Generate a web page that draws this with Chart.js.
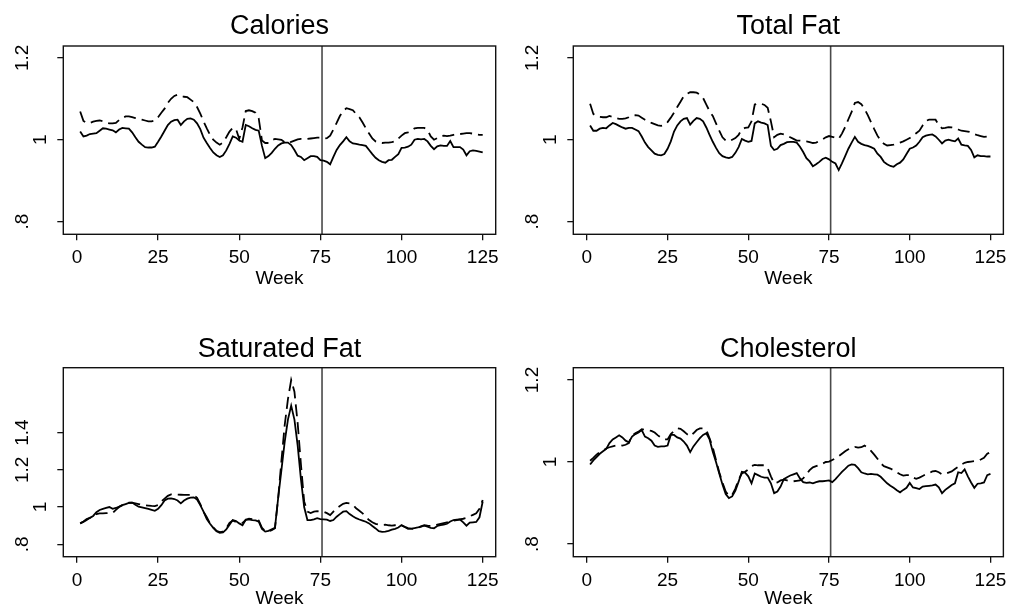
<!DOCTYPE html>
<html><head><meta charset="utf-8">
<script src="https://cdn.jsdelivr.net/npm/chart.js@4.4.1/dist/chart.umd.min.js"></script>
<style>
html,body{margin:0;padding:0;background:#fff;}
#wrap{position:relative;width:1013px;height:607px;background:#fff;}
canvas{position:absolute;left:0;top:0;}
</style></head><body>
<div id="wrap">
<canvas id="c1" width="1013" height="607"></canvas>
<canvas id="c2" width="1013" height="607"></canvas>
<canvas id="c3" width="1013" height="607"></canvas>
<canvas id="c4" width="1013" height="607"></canvas>
</div>
<script>
// ---------------- DATA ----------------
const weeks = [1,2,3,4,5,6,7,8,9,10,11,12,13,14,15,16,17,18,19,20,21,22,23,24,25,
26,27,28,29,30,31,32,33,34,35,36,37,38,39,40,41,42,43,44,45,46,47,48,49,50,
51,52,53,54,55,56,57,58,59,60,61,62,63,64,65,66,67,68,69,70,71,72,73,74,75,
76,77,78,79,80,81,82,83,84,85,86,87,88,89,90,91,92,93,94,95,96,97,98,99,100,
101,102,103,104,105,106,107,108,109,110,111,112,113,114,115,116,117,118,119,120,121,122,123,124,125];

const cutWeek = 75.5;

const xTicks = [0,25,50,75,100,125];
const xTickLabels = ['0','25','50','75','100','125'];
const yTicksStd = [0.8,1,1.2];
const yTickLabelsStd = ['.8','1','1.2'];
const yTicksSat = [0.8,1,1.2,1.4];
const yTickLabelsSat = ['.8','1','1.2','1.4'];

const caloriesSolid = [
1.020,1.008,1.010,1.014,1.015, 1.016,1.022,1.028,1.027,1.025,
1.023,1.018,1.025,1.029,1.028, 1.027,1.018,1.006,0.995,0.988,
0.982,0.981,0.981,0.983,0.995, 1.008,1.022,1.036,1.044,1.048,
1.049,1.036,1.045,1.051,1.052, 1.049,1.040,1.026,1.005,0.992,
0.980,0.969,0.962,0.958,0.962, 0.974,0.990,1.008,1.005,0.998,
0.995,1.036,1.033,1.028,1.024, 1.022,0.985,0.955,0.960,0.968,
0.978,0.986,0.991,0.993,0.993, 0.987,0.975,0.961,0.958,0.950,
0.955,0.960,0.960,0.958,0.950, 0.949,0.946,0.940,0.958,0.975,
0.987,0.996,1.006,0.996,0.991, 0.990,0.988,0.987,0.985,0.975,
0.965,0.956,0.950,0.946,0.944, 0.950,0.951,0.958,0.965,0.980,
0.981,0.983,0.988,1.000,1.002, 1.001,1.002,0.996,0.985,0.977,
0.984,0.986,0.985,0.985,0.997, 0.982,0.982,0.982,0.976,0.962,
0.972,0.974,0.973,0.971,0.969];
const caloriesDashed = [
1.069,1.046,1.041,1.041,1.044, 1.046,1.047,1.045,1.042,1.040,
1.040,1.041,1.048,1.053,1.057, 1.057,1.055,1.053,1.051,1.049,
1.047,1.045,1.045,1.047,1.055, 1.066,1.076,1.090,1.100,1.107,
1.110,1.107,1.105,1.104,1.098, 1.092,1.080,1.064,1.045,1.028,
1.012,1.000,0.993,0.988,0.993, 1.006,1.020,1.029,1.026,1.002,
1.030,1.070,1.072,1.070,1.066, 1.052,0.998,0.992,0.992,0.999,
1.002,1.001,1.000,0.994,0.992, 0.995,0.998,1.001,1.002,1.002,
1.002,1.003,1.004,1.005,1.005, 1.003,1.004,1.010,1.025,1.041,
1.058,1.070,1.077,1.075,1.072, 1.063,1.055,1.042,1.028,1.015,
1.003,0.996,0.993,0.992,0.993, 0.993,0.994,0.996,1.003,1.010,
1.016,1.018,1.022,1.028,1.029, 1.029,1.029,1.024,1.008,1.000,
1.004,1.009,1.010,1.009,1.010, 1.012,1.013,1.014,1.015,1.016,
1.016,1.015,1.013,1.012,1.012];

const totalFatSolid = [
1.035,1.022,1.022,1.027,1.029, 1.028,1.035,1.041,1.038,1.034,
1.030,1.027,1.029,1.029,1.025, 1.021,1.008,0.993,0.982,0.974,
0.966,0.963,0.962,0.965,0.978, 0.996,1.020,1.035,1.045,1.051,
1.053,1.037,1.046,1.053,1.051, 1.045,1.030,1.012,0.995,0.980,
0.967,0.960,0.957,0.955,0.958, 0.968,0.982,1.002,0.998,0.995,
0.997,1.040,1.045,1.042,1.040, 1.036,0.985,0.975,0.978,0.987,
0.990,0.994,0.995,0.995,0.993, 0.983,0.970,0.955,0.947,0.935,
0.940,0.946,0.953,0.956,0.952, 0.946,0.942,0.926,0.942,0.960,
0.978,0.993,1.007,0.995,0.990, 0.987,0.985,0.982,0.978,0.966,
0.958,0.946,0.940,0.936,0.934, 0.940,0.944,0.952,0.965,0.978,
0.981,0.986,0.995,1.006,1.010, 1.012,1.013,1.008,1.000,0.991,
0.998,1.000,0.998,0.996,1.003, 0.988,0.986,0.985,0.975,0.957,
0.962,0.960,0.960,0.959,0.959];
const totalFatDashed = [
1.088,1.063,1.058,1.056,1.055, 1.055,1.058,1.056,1.053,1.051,
1.051,1.052,1.055,1.059,1.060, 1.059,1.054,1.049,1.045,1.041,
1.038,1.035,1.034,1.036,1.043, 1.054,1.066,1.080,1.093,1.106,
1.112,1.116,1.116,1.115,1.110, 1.102,1.086,1.070,1.058,1.040,
1.022,1.006,0.998,0.996,1.000, 1.004,1.012,1.025,1.029,1.030,
1.045,1.086,1.089,1.088,1.085, 1.078,1.045,1.006,1.012,1.015,
1.013,1.011,1.006,1.002,0.998, 0.998,0.997,0.996,0.994,0.992,
0.993,0.997,1.001,1.006,1.009, 1.007,1.005,1.002,1.015,1.031,
1.050,1.068,1.090,1.092,1.087, 1.075,1.060,1.043,1.026,1.010,
0.998,0.990,0.986,0.987,0.988, 0.990,0.993,0.996,1.000,1.004,
1.010,1.016,1.022,1.035,1.046, 1.049,1.049,1.049,1.036,1.028,
1.029,1.031,1.030,1.028,1.025, 1.022,1.021,1.020,1.018,1.014,
1.011,1.009,1.007,1.008,1.010];

const satFatSolid = [
0.912,0.922,0.935,0.942,0.952, 0.972,0.984,0.990,0.995,1.000,
0.990,0.995,1.002,1.010,1.016, 1.022,1.024,1.012,1.002,0.998,
0.994,0.990,0.985,0.980,0.990, 1.010,1.035,1.045,1.047,1.043,
1.035,1.020,1.035,1.045,1.050, 1.052,1.040,1.010,0.975,0.935,
0.910,0.888,0.870,0.862,0.864, 0.880,0.905,0.930,0.925,0.912,
0.902,0.932,0.934,0.930,0.928, 0.922,0.882,0.868,0.872,0.880,
0.888,1.050,1.200,1.350,1.470, 1.545,1.470,1.330,1.150,1.000,
0.930,0.930,0.934,0.940,0.935, 0.934,0.932,0.925,0.930,0.948,
0.962,0.975,0.978,0.962,0.950, 0.940,0.933,0.927,0.921,0.912,
0.898,0.885,0.870,0.866,0.868, 0.872,0.878,0.883,0.890,0.903,
0.893,0.883,0.884,0.887,0.890, 0.895,0.900,0.895,0.888,0.886,
0.898,0.903,0.906,0.910,0.922, 0.930,0.932,0.933,0.918,0.900,
0.916,0.918,0.920,0.945,1.030];
const satFatDashed = [
0.912,0.920,0.930,0.942,0.950, 0.962,0.966,0.966,0.967,0.968,
0.968,0.985,1.000,1.010,1.016, 1.023,1.024,1.020,1.016,1.012,
1.010,1.008,1.006,1.005,1.010, 1.030,1.045,1.060,1.068,1.068,
1.067,1.066,1.065,1.065,1.065, 1.063,1.050,1.015,0.975,0.945,
0.912,0.890,0.872,0.865,0.868, 0.885,0.915,0.928,0.920,0.915,
0.915,0.930,0.938,0.935,0.932, 0.928,0.888,0.870,0.868,0.876,
0.886,1.050,1.250,1.440,1.580, 1.683,1.620,1.450,1.230,1.030,
0.975,0.968,0.975,0.978,0.975, 0.975,0.967,0.957,0.975,0.993,
1.005,1.017,1.022,1.020,1.012, 0.993,0.980,0.966,0.948,0.930,
0.918,0.910,0.906,0.904,0.905, 0.902,0.900,0.902,0.903,0.900,
0.893,0.887,0.884,0.882,0.888, 0.896,0.903,0.900,0.898,0.900,
0.905,0.910,0.914,0.918,0.922, 0.926,0.930,0.934,0.937,0.941,
0.950,0.958,0.966,0.990,1.038];

const cholSolid = [
0.994,1.004,1.012,1.020,1.026, 1.032,1.046,1.055,1.060,1.065,
1.060,1.052,1.048,1.062,1.068, 1.072,1.078,1.062,1.058,1.052,
1.040,1.037,1.038,1.038,1.040, 1.066,1.066,1.060,1.057,1.050,
1.040,1.024,1.038,1.048,1.058, 1.066,1.070,1.055,1.025,1.000,
0.972,0.945,0.922,0.912,0.916, 0.930,0.952,0.976,0.974,0.965,
0.948,0.972,0.968,0.964,0.962, 0.962,0.948,0.924,0.928,0.940,
0.958,0.963,0.967,0.970,0.973, 0.960,0.951,0.949,0.950,0.948,
0.951,0.953,0.953,0.954,0.955, 0.951,0.958,0.967,0.976,0.983,
0.991,0.994,0.993,0.985,0.975, 0.972,0.970,0.971,0.970,0.969,
0.964,0.956,0.948,0.942,0.937, 0.931,0.926,0.932,0.937,0.949,
0.938,0.936,0.934,0.940,0.941, 0.942,0.943,0.945,0.938,0.924,
0.932,0.938,0.944,0.948,0.975, 0.973,0.982,0.965,0.950,0.937,
0.947,0.948,0.950,0.968,0.971];
const cholDashed = [
1.003,1.010,1.018,1.024,1.028, 1.033,1.036,1.038,1.040,1.041,
1.040,1.042,1.046,1.064,1.070, 1.074,1.080,1.078,1.077,1.076,
1.072,1.065,1.059,1.055,1.055, 1.068,1.076,1.082,1.081,1.075,
1.068,1.063,1.070,1.078,1.082, 1.082,1.078,1.058,1.035,1.005,
0.975,0.950,0.928,0.917,0.920, 0.935,0.957,0.972,0.976,0.982,
0.990,0.993,0.992,0.992,0.992, 0.985,0.965,0.948,0.950,0.955,
0.957,0.955,0.953,0.953,0.954, 0.955,0.960,0.970,0.980,0.987,
0.990,0.993,0.996,1.000,1.001, 1.005,1.009,1.014,1.020,1.026,
1.031,1.035,1.037,1.035,1.036, 1.040,1.035,1.027,1.018,1.008,
0.997,0.990,0.987,0.984,0.980, 0.975,0.970,0.967,0.968,0.968,
0.962,0.959,0.962,0.966,0.970, 0.973,0.977,0.978,0.975,0.970,
0.971,0.974,0.977,0.983,0.988, 0.994,0.998,1.000,1.001,1.002,
1.003,1.006,1.010,1.020,1.024];

// ---------------- DRAWING ----------------
const FONT = "'Liberation Sans', Arial, Helvetica, sans-serif";
Chart.defaults.font.family = FONT;
Chart.defaults.color = '#000';

const boxPlugin = {
  id: 'plotBox',
  afterDraw(chart) {
    const a = chart.chartArea, ctx = chart.ctx;
    ctx.save();
    ctx.strokeStyle = '#111';
    ctx.lineWidth = 1.4;
    ctx.strokeRect(a.left, a.top, a.right - a.left, a.bottom - a.top);
    ctx.restore();
  }
};

function toPoints(xs, ys) { return xs.map((x, i) => ({x: x, y: ys[i]})); }

function makePanel(id, title, solid, dashed, yVals, yLabs, yMin, yMax, box, titleMid, weekMid) {
  const W = 1013, Hc = 607;
  const yAxisW = 50;
  const titleLH = 27 * 1.2;
  const titlePadTop = 8;
  const layoutTop = titleMid - titleLH / 2 - titlePadTop;
  const titlePadBottom = box.T - layoutTop - titlePadTop - titleLH;
  const weekLH = 19 * 0.8;
  const xAxisH = (weekMid - box.B) + weekLH / 2;
  const padBottom = Hc - (box.B + xAxisH);
  new Chart(document.getElementById(id), {
    type: 'line',
    data: {
      datasets: [
        {data: toPoints(weeks, solid), borderColor: '#000', borderWidth: 1.8, pointRadius: 0, tension: 0, fill: false},
        {data: toPoints(weeks, dashed), borderColor: '#000', borderWidth: 1.8, borderDash: [12, 6], pointRadius: 0, tension: 0, fill: false},
        {data: [{x: cutWeek, y: yMin}, {x: cutWeek, y: yMax}], borderColor: '#4a4a4a', borderWidth: 1.6, pointRadius: 0, fill: false}
      ]
    },
    options: {
      responsive: false,
      animation: false,
      devicePixelRatio: 1,
      events: [],
      layout: {
        autoPadding: false,
        padding: {left: box.L - yAxisW, right: W - box.R, top: layoutTop, bottom: padBottom}
      },
      plugins: {
        legend: {display: false},
        tooltip: {enabled: false},
        title: {
          display: true, text: title, color: '#000', fullSize: false,
          font: {size: 27, weight: 'normal', family: FONT, lineHeight: 1.2},
          padding: {top: titlePadTop, bottom: titlePadBottom}
        }
      },
      scales: {
        x: {
          type: 'linear', position: 'bottom', min: -4.2, max: 129.0,
          afterBuildTicks: s => { s.ticks = xTicks.map(v => ({value: v})); },
          afterFit: s => { s.height = xAxisH; },
          grid: {display: true, drawOnChartArea: false, drawTicks: true, tickLength: 6, color: '#111', lineWidth: 1.3},
          border: {display: false},
          ticks: {
            autoSkip: false, maxRotation: 0, minRotation: 0, padding: 6.4, color: '#000',
            font: {size: 19, family: FONT, lineHeight: 1.2},
            callback: v => xTickLabels[xTicks.indexOf(v)]
          },
          title: {display: true, text: 'Week', color: '#000', padding: 0, font: {size: 19, family: FONT, lineHeight: 0.8}}
        },
        y: {
          type: 'linear', position: 'left', min: yMin, max: yMax,
          afterBuildTicks: s => { s.ticks = yVals.map(v => ({value: v})); },
          afterFit: s => { s.width = yAxisW; },
          grid: {display: true, drawOnChartArea: false, drawTicks: true, tickLength: 6, color: '#111', lineWidth: 1.3},
          border: {display: false},
          ticks: {
            autoSkip: false, minRotation: 90, maxRotation: 90, crossAlign: 'center', padding: 21.8, color: '#000',
            font: {size: 19, family: FONT, lineHeight: '37px'},
            callback: v => {
              const lab = yLabs[yVals.indexOf(v)];
              return lab.length < 2 ? ['', lab] : lab;
            }
          }
        }
      }
    },
    plugins: [boxPlugin]
  });
}

makePanel('c1', 'Calories', caloriesSolid, caloriesDashed, yTicksStd, yTickLabelsStd, 0.769, 1.229,
  {L: 63.3, T: 46, R: 495.7, B: 234.3}, 26.3, 278.4);
makePanel('c2', 'Total Fat', totalFatSolid, totalFatDashed, yTicksStd, yTickLabelsStd, 0.769, 1.229,
  {L: 573.3, T: 46, R: 1006.7, B: 234.3}, 26.1, 278.4);
makePanel('c3', 'Saturated Fat', satFatSolid, satFatDashed, yTicksSat, yTickLabelsSat, 0.733, 1.749,
  {L: 63.3, T: 367.7, R: 495.7, B: 556.7}, 349.2, 598.5);
makePanel('c4', 'Cholesterol', cholSolid, cholDashed, yTicksStd, yTickLabelsStd, 0.769, 1.230,
  {L: 573.3, T: 367.7, R: 1006.7, B: 556.7}, 349.3, 598.5);
</script>
</body></html>
